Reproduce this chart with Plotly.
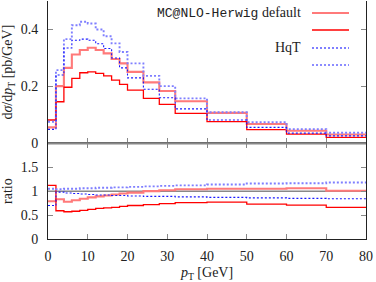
import plotly.graph_objects as go

# bin edges in pT [GeV]
edges = [0, 2, 4, 6, 8, 10, 12, 14, 16, 18, 20, 24, 28, 32, 40, 50, 60, 70, 80]

# top panel: dsigma/dpT [pb/GeV]
mc_default = [0.056, 0.201, 0.265, 0.312, 0.328, 0.336, 0.328, 0.316, 0.296, 0.281,
              0.251, 0.214, 0.184, 0.148, 0.107, 0.068, 0.044, 0.031]
mc_other = [0.082, 0.146, 0.197, 0.228, 0.248, 0.251, 0.246, 0.237, 0.222, 0.207,
            0.187, 0.158, 0.137, 0.105, 0.076, 0.048, 0.032, 0.021]
hqt_up = [0.076, 0.257, 0.366, 0.415, 0.427, 0.421, 0.400, 0.376, 0.351, 0.321,
          0.281, 0.237, 0.201, 0.158, 0.109, 0.074, 0.050, 0.037]
hqt_lo = [0.049, 0.240, 0.335, 0.362, 0.366, 0.362, 0.350, 0.333, 0.300, 0.265,
          0.230, 0.190, 0.160, 0.121, 0.082, 0.056, 0.036, 0.026]

# bottom panel: ratio
r_mc_default = [0.79, 0.83, 0.78, 0.81, 0.84, 0.87, 0.89, 0.91, 0.93, 0.95,
                0.97, 1.00, 1.02, 1.04, 1.05, 1.05, 1.06, 1.01]
r_mc_other = [1.12, 0.59, 0.57, 0.58, 0.60, 0.62, 0.64, 0.65, 0.66, 0.68,
              0.70, 0.72, 0.74, 0.76, 0.77, 0.73, 0.71, 0.66]
r_hqt_up = [1.05, 1.04, 1.05, 1.05, 1.06, 1.06, 1.07, 1.07, 1.08, 1.08,
            1.09, 1.10, 1.11, 1.12, 1.14, 1.16, 1.165, 1.18]
r_hqt_lo = [0.70, 0.98, 0.96, 0.95, 0.94, 0.93, 0.92, 0.92, 0.91, 0.91,
            0.90, 0.89, 0.89, 0.88, 0.87, 0.86, 0.85, 0.84]

top_ticks = [0, 0.2, 0.4]
top_labels = ["0", "0.2", "0.4"]
ratio_ticks = [0, 0.5, 1, 1.5]
ratio_labels = ["0", "0.5", "1", "1.5"]
x_ticks = [0, 10, 20, 30, 40, 50, 60, 70, 80]

PINK = "#ff7a7a"
RED = "#ff0000"
LBLUE = "#7f7fff"
DBLUE = "#1a1aff"

styles = [
    dict(color=PINK, width=2.1),
    dict(color=RED, width=1.3),
    dict(color=LBLUE, width=1.9, dash="2px,2px"),
    dict(color=DBLUE, width=1.1, dash="2px,2px"),
]

fig = go.Figure()

def step(vals, style, xa, ya):
    fig.add_trace(go.Scatter(
        x=edges, y=list(vals) + [vals[-1]], mode="lines", line_shape="hv",
        line=style, xaxis=xa, yaxis=ya, showlegend=False, hoverinfo="skip"))

for vals, st in zip([mc_default, mc_other, hqt_up, hqt_lo], styles):
    step(vals, st, "x", "y")
for vals, st in zip([r_mc_default, r_mc_other, r_hqt_up, r_hqt_lo], styles):
    step(vals, st, "x2", "y2")

SERIF = "Liberation Serif"
font = dict(family=SERIF, size=14, color="#222")
split = 0.402

common_x = dict(range=[0, 80], tickvals=x_ticks, ticks="inside", ticklen=5,
                tickcolor="#888", showgrid=False, zeroline=False, automargin=False)

fig.update_layout(
    width=376, height=282,
    margin=dict(l=48, r=10, t=1, b=43, autoexpand=False),
    paper_bgcolor="white", plot_bgcolor="white",
    font=font,
    xaxis=dict(common_x, anchor="y", showticklabels=False, showline=False,
               matches="x2"),
    yaxis=dict(domain=[split, 1], range=[0, 0.5], tickvals=top_ticks,
               ticktext=top_labels, ticks="inside", ticklen=5, tickcolor="#888",
               showline=True, linecolor="#222", linewidth=1, mirror="ticks",
               showgrid=False, zeroline=False, ticklabelstandoff=6, automargin=False,
               title=dict(text="d<i>σ</i>/d<i>p</i><sub>T</sub> [pb/GeV]",
                          standoff=7, font=dict(family=SERIF, size=14))),
    xaxis2=dict(common_x, anchor="y2", showline=True, linecolor="#222",
                linewidth=1, mirror="ticks", ticklabelstandoff=4,
                title=dict(text="<i>p</i><sub>T</sub> [GeV]", standoff=5,
                           font=dict(family=SERIF, size=14))),
    yaxis2=dict(domain=[0, split], range=[0, 2], tickvals=ratio_ticks,
                ticktext=ratio_labels, ticks="inside", ticklen=5, tickcolor="#888",
                showline=True, linecolor="#222", linewidth=1, mirror="ticks",
                showgrid=False, zeroline=False, ticklabelstandoff=6, automargin=False,
                title=dict(text="ratio", standoff=7,
                           font=dict(family=SERIF, size=14))),
)

# reference line at ratio = 1 and panel separator
fig.add_shape(type="line", xref="x2 domain", yref="y2", x0=0, x1=1, y0=1, y1=1,
              line=dict(color="#888", width=1.5), layer="below")
fig.add_shape(type="line", xref="x domain", yref="y domain", x0=0, x1=1, y0=0, y1=0,
              line=dict(color="#888", width=2.2), layer="above")

# manual legend (text left, sample right)
leg_rows = [13, 30, 48, 65]
leg_text = ['<span style="font-family:Liberation Mono;font-size:13px">MC@NLO-Herwig</span> default',
            "", "HqT", ""]
H = 282
for yy, txt, st in zip(leg_rows, leg_text, styles):
    fig.add_shape(type="line", xref="paper", yref="paper",
                  x0=(312 - 48) / 318, x1=(349 - 48) / 318,
                  y0=(H - 43 - yy) / 238, y1=(H - 43 - yy) / 238,
                  line=st)
    if txt:
        fig.add_annotation(x=(303 - 48) / 318, y=(H - 43 - yy) / 238,
                           xref="paper", yref="paper", text=txt, showarrow=False,
                           xanchor="right", yanchor="middle",
                           font=dict(family=SERIF, size=14, color="#222"))

fig.write_html("out.html", config={"displayModeBar": False},
               post_script="document.body.style.margin='0';document.body.style.overflow='hidden';")
